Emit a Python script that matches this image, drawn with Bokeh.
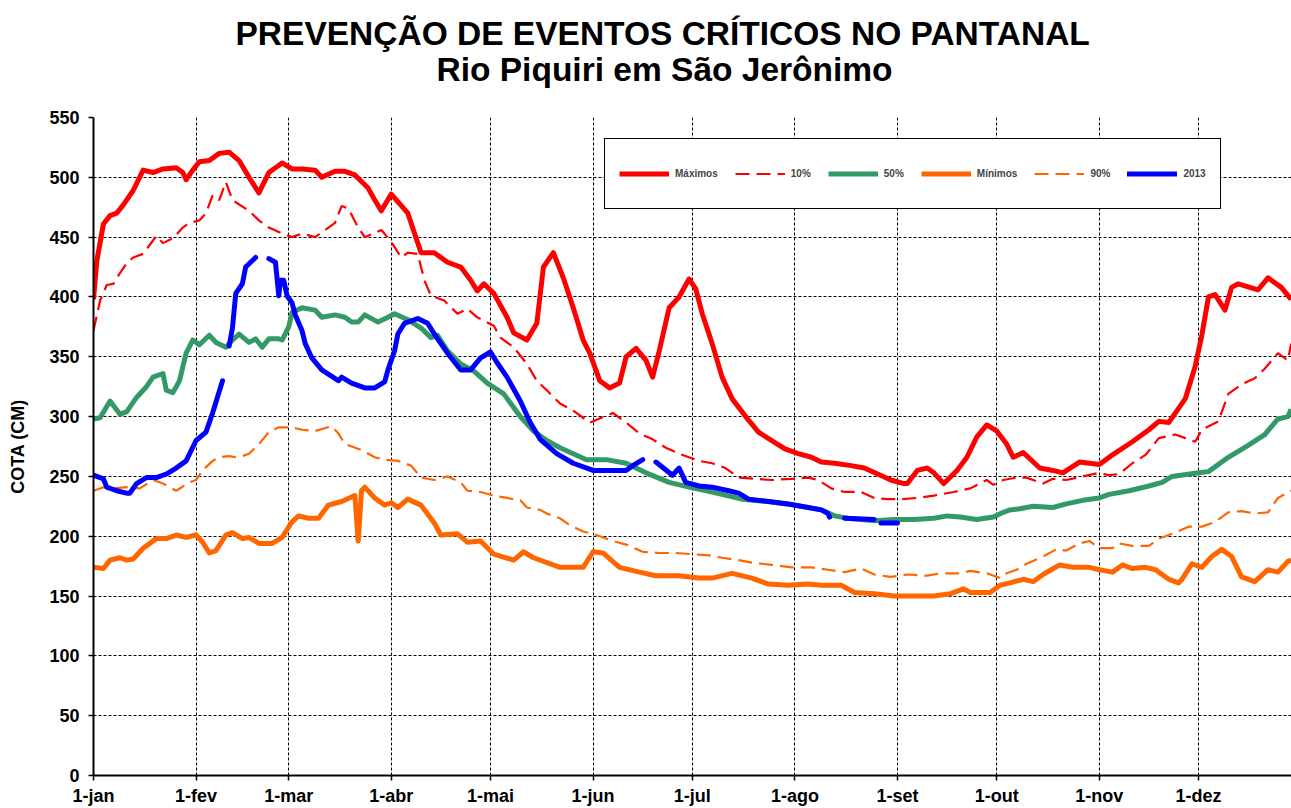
import math
from bokeh.plotting import figure
from bokeh.models import FixedTicker, Title, Legend, LegendItem
from bokeh.embed import file_html
from bokeh.resources import INLINE

nan = float("nan")

title_line1 = "PREVENÇÃO DE EVENTOS CRÍTICOS NO PANTANAL"
title_line2 = "Rio Piquiri em São Jerônimo"
y_axis_title = "COTA (CM)"

month_days = [0, 31, 59, 90, 120, 151, 181, 212, 243, 273, 304, 334]
month_labels = ["1-jan", "1-fev", "1-mar", "1-abr", "1-mai", "1-jun",
                "1-jul", "1-ago", "1-set", "1-out", "1-nov", "1-dez"]
y_ticks = [0, 50, 100, 150, 200, 250, 300, 350, 400, 450, 500, 550]

max_days = [0, 1, 3, 5, 7, 9, 12, 15, 18, 21, 25, 27, 28, 30, 32, 35, 38, 41, 44, 47,
            50, 53, 57, 60, 63, 67, 69, 73, 76, 79, 83, 85, 87, 90, 95, 99, 103, 107, 111, 114,
            116, 118, 121, 125, 127, 131, 134, 136, 139, 142, 145, 148, 150, 153, 156, 159, 161, 164, 167, 169,
            171, 174, 177, 180, 182, 184, 187, 190, 193, 198, 201, 205, 209, 213, 217, 220, 224, 229, 233, 237,
            241, 245, 246, 249, 252, 254, 257, 261, 264, 267, 270, 273, 276, 278, 281, 286, 290, 293, 298, 304,
            308, 314, 319, 322, 325, 330, 333, 335, 337, 339, 342, 344, 346, 352, 355, 359, 362]
max_vals = [398, 430, 461, 468, 470, 477, 489, 506, 504, 507, 508, 504, 498, 506, 513, 514, 520, 521, 514, 500,
            487, 504, 512, 507, 507, 506, 500, 505, 505, 502, 491, 481, 472, 486, 470, 437, 437, 429, 425, 414,
            405, 411, 403, 383, 370, 364, 378, 425, 437, 416, 391, 364, 353, 330, 324, 328, 350, 357, 347, 333,
            355, 391, 400, 415, 407, 386, 361, 333, 315, 297, 287, 280, 273, 269, 266, 262, 261, 259, 257, 252,
            247, 244, 244, 255, 257, 253, 244, 255, 266, 283, 293, 288, 277, 266, 270, 257, 255, 253, 262, 260,
            268, 279, 289, 296, 295, 315, 342, 368, 400, 402, 389, 408, 411, 406, 416, 408, 398]

p10_days = [0, 2, 4, 6, 8, 10, 12, 15, 19, 21, 24, 27, 29, 32, 34, 36, 38, 40, 42, 47,
            50, 53, 57, 60, 63, 67, 71, 73, 75, 77, 80, 82, 87, 90, 93, 95, 98, 100, 102, 106,
            110, 113, 116, 121, 123, 127, 131, 134, 137, 141, 145, 150, 157, 161, 165, 169, 173, 177, 183, 187,
            191, 195, 200, 205, 211, 216, 219, 223, 227, 232, 236, 240, 244, 249, 254, 260, 265, 270, 272, 275,
            279, 282, 284, 287, 290, 294, 299, 304, 307, 310, 314, 318, 322, 327, 330, 333, 335, 340, 343, 347,
            351, 354, 358, 361, 362]
p10_vals = [372, 397, 410, 411, 420, 428, 433, 436, 451, 445, 449, 458, 462, 464, 470, 485, 481, 496, 481, 472,
            464, 458, 453, 450, 453, 450, 458, 462, 476, 474, 458, 450, 456, 446, 433, 437, 436, 414, 401, 397,
            386, 390, 383, 376, 366, 358, 344, 330, 322, 311, 305, 295, 303, 295, 286, 281, 274, 269, 263, 261,
            257, 249, 248, 247, 248, 249, 247, 240, 237, 237, 232, 231, 231, 232, 234, 237, 240, 247, 243, 247,
            249, 249, 247, 244, 248, 247, 250, 253, 251, 252, 261, 268, 282, 285, 282, 279, 289, 296, 319, 327,
            332, 340, 353, 347, 361]

p50_days = [0, 2, 5, 8, 10, 13, 16, 18, 21, 22, 24, 26, 28, 30, 32, 35, 37, 40, 42, 44,
            47, 49, 51, 53, 56, 57, 59, 60, 63, 67, 69, 73, 76, 78, 80, 82, 86, 89, 91, 95,
            99, 102, 104, 107, 111, 115, 119, 124, 129, 133, 137, 141, 149, 155, 161, 167, 174, 180, 187, 196,
            204, 212, 220, 224, 228, 236, 242, 248, 254, 258, 262, 267, 272, 275, 277, 280, 284, 290, 294, 299,
            304, 307, 313, 319, 323, 326, 334, 337, 343, 349, 354, 358, 361, 362]
p50_vals = [298, 299, 313, 302, 304, 316, 325, 333, 336, 322, 320, 330, 353, 364, 360, 368, 362, 358, 364, 369,
            362, 365, 358, 365, 365, 364, 375, 387, 391, 389, 383, 385, 383, 379, 379, 385, 379, 383, 386, 381,
            374, 366, 368, 355, 344, 338, 328, 319, 300, 288, 280, 274, 264, 264, 261, 253, 245, 241, 237, 231,
            229, 226, 222, 217, 215, 213, 214, 214, 215, 217, 216, 214, 216, 220, 222, 223, 225, 224, 227, 230,
            232, 235, 238, 242, 245, 250, 253, 254, 266, 276, 285, 298, 300, 306]

min_days = [0, 3, 5, 8, 10, 12, 15, 19, 22, 25, 28, 31, 33, 35, 37, 40, 42, 45, 47, 50,
            54, 57, 60, 62, 65, 68, 71, 75, 79, 80, 81, 82, 85, 88, 90, 92, 95, 99, 103, 105,
            110, 113, 117, 121, 127, 130, 133, 141, 148, 151, 154, 159, 165, 170, 177, 183, 187, 193, 199, 204,
            210, 216, 220, 226, 230, 236, 242, 248, 254, 259, 263, 265, 271, 274, 277, 281, 284, 287, 292, 296,
            301, 304, 308, 311, 314, 318, 321, 325, 328, 329, 332, 335, 338, 341, 344, 347, 351, 355, 358, 361,
            362]
min_vals = [174, 173, 180, 182, 180, 181, 190, 198, 198, 201, 199, 201, 195, 186, 188, 201, 203, 198, 199, 194,
            194, 199, 212, 217, 215, 215, 226, 229, 234, 196, 238, 241, 232, 226, 228, 224, 231, 226, 211, 201,
            202, 195, 196, 185, 180, 187, 182, 174, 174, 187, 186, 174, 170, 167, 167, 165, 165, 169, 165, 160,
            159, 160, 159, 159, 153, 152, 150, 150, 150, 152, 156, 153, 153, 159, 161, 164, 162, 168, 176, 174,
            174, 172, 170, 176, 173, 174, 172, 164, 161, 164, 177, 174, 183, 189, 183, 166, 162, 172, 170, 179,
            180]

p90_days = [0, 3, 6, 10, 14, 18, 21, 25, 29, 31, 33, 36, 38, 41, 43, 45, 47, 50, 53, 56,
            60, 63, 67, 72, 74, 76, 81, 85, 88, 92, 96, 99, 103, 107, 111, 113, 117, 121, 125, 129,
            131, 135, 137, 141, 144, 148, 152, 157, 161, 166, 171, 176, 181, 186, 190, 195, 199, 205, 211, 217,
            222, 227, 232, 236, 241, 246, 252, 256, 262, 265, 270, 274, 276, 279, 282, 287, 291, 294, 298, 301,
            304, 308, 310, 314, 319, 322, 326, 331, 335, 339, 343, 347, 351, 355, 358, 362]
p90_vals = [238, 241, 240, 241, 240, 247, 244, 238, 245, 247, 255, 263, 266, 267, 266, 267, 269, 277, 287, 291,
            291, 289, 288, 292, 286, 277, 272, 266, 264, 263, 259, 249, 247, 250, 245, 238, 237, 234, 232, 230,
            224, 222, 219, 215, 209, 204, 201, 196, 193, 187, 186, 186, 185, 184, 182, 180, 178, 176, 174, 174,
            172, 170, 173, 168, 166, 168, 167, 169, 169, 171, 169, 165, 169, 172, 177, 183, 189, 188, 194, 196,
            190, 190, 194, 192, 192, 198, 202, 208, 208, 212, 220, 221, 219, 220, 232, 238]

y2013_days = [0, 3, 4, 7, 10, 11, 13, 16, 19, 22, 25, 28, 31, 34, 36, 39, nan,
              41, 42, 43, 45, 46, 49, nan,
              53, 55, 56, 56.5, 57.5, 58.5, 60, 61, 63, 64, 66, 69, 74, 75, 78, 82, 85, 88, 89, 91,
              92, 94, 98, 101, 103, 107, 111, 114, 117, 120, 122, 125, 129, 132, 135, 140, 145, 151, 157, 161,
              163, 166, nan,
              170, 175, 177, 179, 183, 187, 192, 195, 198, 204, 210, 216, 220, 222, 222.5, nan,
              227, 236, nan,
              238, 243]
y2013_vals = [251, 248, 241, 238, 236, 236, 244, 249, 249, 252, 257, 263, 280, 287, 303, 330, nan,
              359, 374, 403, 411, 425, 433, nan,
              432, 429, 401, 414, 414, 401, 395, 385, 372, 361, 349, 339, 330, 333, 328, 324, 324, 329, 339, 355,
              369, 378, 382, 378, 369, 353, 339, 339, 349, 354, 345, 333, 313, 295, 281, 269, 261, 255, 255, 255,
              259, 264, nan,
              262, 251, 257, 245, 242, 241, 238, 236, 231, 229, 227, 224, 222, 219, 216, nan,
              215, 214, nan,
              211, 211]

series_labels = ["Máximos", "10%", "50%", "Mínimos", "90%", "2013"]

for a, b in [(max_days, max_vals), (p10_days, p10_vals), (p50_days, p50_vals),
             (min_days, min_vals), (p90_days, p90_vals), (y2013_days, y2013_vals)]:
    assert len(a) == len(b), (len(a), len(b))

FONT = "Liberation Sans"
RED = "#FF0000"
GREEN = "#339966"
ORANGE = "#FF6600"
BLUE = "#0000FF"

p = figure(width=1291, height=808, output_backend="svg", toolbar_location=None,
           x_range=(0, 362.1), y_range=(0, 550),
           min_border_left=93, min_border_right=0, min_border_top=117, min_border_bottom=33)

# far title (line 1) and near title (line 2)
p.title = Title(text=title_line1, align="left", offset=142, standoff=-66,
                text_font=FONT, text_font_size="33.5px", text_font_style="bold",
                text_color="black")
p.add_layout(Title(text=title_line2, align="left", offset=343, standoff=60,
                   text_font=FONT, text_font_size="33.5px", text_font_style="bold",
                   text_color="black"), "above")

p.outline_line_color = None
p.background_fill_color = "white"
p.border_fill_color = "white"

for g in (p.xgrid, p.ygrid):
    g.grid_line_color = "black"
    g.grid_line_dash = "3 2"
    g.grid_line_width = 1
p.xgrid.ticker = FixedTicker(ticks=month_days)
p.ygrid.ticker = FixedTicker(ticks=y_ticks)

p.xaxis.ticker = FixedTicker(ticks=month_days)
p.xaxis.major_label_overrides = {d: l for d, l in zip(month_days, month_labels)}
p.yaxis.ticker = FixedTicker(ticks=y_ticks)
p.yaxis.axis_label = y_axis_title
for ax in (p.xaxis, p.yaxis):
    ax.axis_line_color = "black"
    ax.axis_line_width = 2
    ax.major_tick_line_color = "black"
    ax.major_tick_line_width = 1.5
    ax.major_tick_out = 5
    ax.major_tick_in = 0
    ax.minor_tick_line_color = None
    ax.major_label_text_font = FONT
    ax.major_label_text_font_size = "18px"
    ax.major_label_text_font_style = "bold"
    ax.major_label_text_color = "black"
p.xaxis.major_label_standoff = 5
p.yaxis.major_label_standoff = 9
p.yaxis.axis_label_text_font = FONT
p.yaxis.axis_label_text_font_size = "18px"
p.yaxis.axis_label_text_font_style = "bold"
p.yaxis.axis_label_text_color = "black"
p.yaxis.axis_label_standoff = 18

r_max = p.line(max_days, max_vals, line_color=RED, line_width=5, line_join="round")
r_p10 = p.line(p10_days, p10_vals, line_color=RED, line_width=2.2, line_dash="14 7")
r_p50 = p.line(p50_days, p50_vals, line_color=GREEN, line_width=5, line_join="round")
r_min = p.line(min_days, min_vals, line_color=ORANGE, line_width=5, line_join="round")
r_p90 = p.line(p90_days, p90_vals, line_color=ORANGE, line_width=2.2, line_dash="14 7")
r_2013 = p.line(y2013_days, y2013_vals, line_color=BLUE, line_width=5, line_join="round",
                line_cap="round")

renderers = [r_max, r_p10, r_p50, r_min, r_p90, r_2013]
items = [LegendItem(label=lab, renderers=[r]) for lab, r in zip(series_labels, renderers)]

legend = Legend(items=items, orientation="horizontal", location=(511, 566), margin=0, padding=14,
                spacing=17, glyph_width=50, glyph_height=41, label_height=41, label_standoff=6,
                label_text_font=FONT, label_text_font_size="10px", label_text_font_style="bold",
                border_line_color="black", border_line_width=1.5, border_line_alpha=1,
                background_fill_alpha=1)
p.add_layout(legend, "center")

open("out.html", "w").write(file_html(p, INLINE))
